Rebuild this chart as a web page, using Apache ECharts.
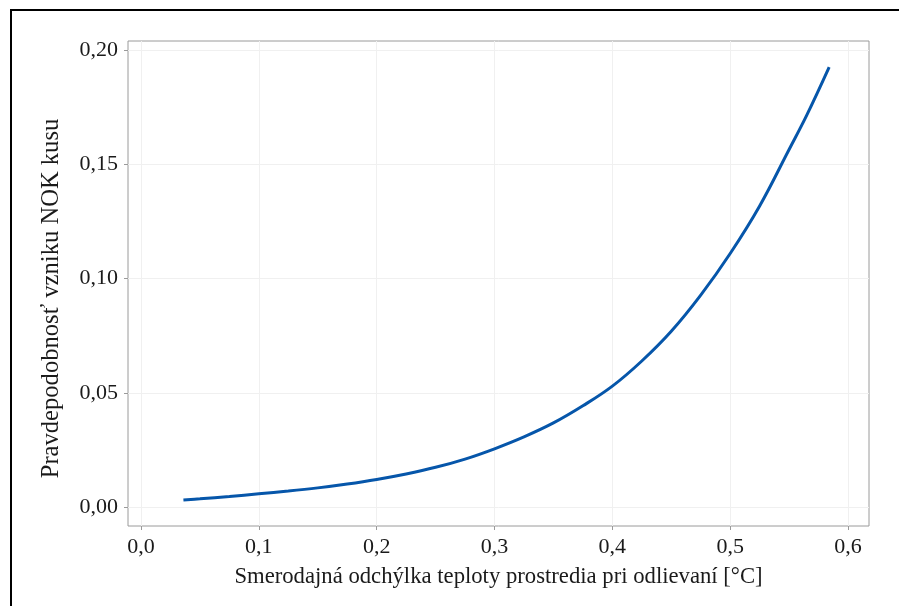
<!DOCTYPE html>
<html>
<head>
<meta charset="utf-8">
<script src="https://cdn.jsdelivr.net/npm/echarts@6/dist/echarts.min.js"></script>
<style>
html,body{margin:0;padding:0;background:#fff;}
#chart{width:899px;height:606px;}
</style>
</head>
<body>
<div id="chart"></div>
<script>
// Data
const xValues = [0.036, 0.05, 0.075, 0.1, 0.125, 0.15, 0.175, 0.2, 0.225, 0.25, 0.275, 0.3, 0.325, 0.35, 0.375, 0.4, 0.425, 0.45, 0.475, 0.5, 0.525, 0.55, 0.565, 0.584];
const yValues = [0.0032, 0.0037, 0.0047, 0.0059, 0.0071, 0.0085, 0.0102, 0.0122, 0.0146, 0.0175, 0.0211, 0.0256, 0.0308, 0.0369, 0.0444, 0.053, 0.064, 0.077, 0.0928, 0.111, 0.1318, 0.1565, 0.1715, 0.1925];
const xTicks = [0, 0.1, 0.2, 0.3, 0.4, 0.5, 0.6];
const yTicks = [0, 0.05, 0.1, 0.15, 0.2];
const xTitle = 'Smerodajná odchýlka teploty prostredia pri odlievaní [°C]';
const yTitle = 'Pravdepodobnosť vzniku NOK kusu';

const seriesData = xValues.map((x, i) => [x, yValues[i]]);
const font = '"Liberation Serif", "Times New Roman", serif';

const chart = echarts.init(document.getElementById('chart'), null, {renderer: 'canvas'});
chart.setOption({
  animation: false,
  backgroundColor: '#ffffff',
  grid: {left: 128, right: 30, top: 41, bottom: 80, containLabel: false,
    show: true, borderColor: '#9a9a9a', borderWidth: 1, backgroundColor: 'transparent'},
  graphic: [
    {type: 'rect', shape: {x: 11, y: 10, width: 1000, height: 700}, style: {fill: null, stroke: '#000', lineWidth: 2}, z: 10}
  ],
  xAxis: {
    type: 'value', min: -0.01103, max: 0.6178,
    axisLine: {show: false, onZero: false},
    axisTick: {show: true, length: 4, lineStyle: {color: '#9a9a9a'}, customValues: xTicks},
    splitLine: {show: true, lineStyle: {color: '#f0f0f0', width: 1}},
    axisLabel: {fontFamily: font, fontSize: 22, color: '#1a1a1a', margin: 10, customValues: xTicks,
      formatter: v => v.toFixed(1).replace('.', ',')},
    name: xTitle, nameLocation: 'middle', nameGap: 40,
    nameTextStyle: {fontFamily: font, fontSize: 22.7, color: '#1a1a1a'}
  },
  yAxis: {
    type: 'value', min: -0.00817, max: 0.20394,
    axisLine: {show: false, onZero: false},
    axisTick: {show: true, length: 4, lineStyle: {color: '#9a9a9a'}, customValues: yTicks},
    splitLine: {show: true, lineStyle: {color: '#f0f0f0', width: 1}},
    axisLabel: {fontFamily: font, fontSize: 22, color: '#1a1a1a', margin: 10, customValues: yTicks,
      formatter: v => v.toFixed(2).replace('.', ',')},
    name: yTitle, nameLocation: 'middle', nameGap: 64,
    nameTextStyle: {fontFamily: font, fontSize: 24.6, color: '#1a1a1a', padding: [0, 30, 0, 0]}
  },
  series: [{
    type: 'line', data: seriesData, smooth: 0.4, showSymbol: false,
    lineStyle: {color: '#0656aa', width: 3}, itemStyle: {color: '#0656aa'}
  }]
});
</script>
</body>
</html>
